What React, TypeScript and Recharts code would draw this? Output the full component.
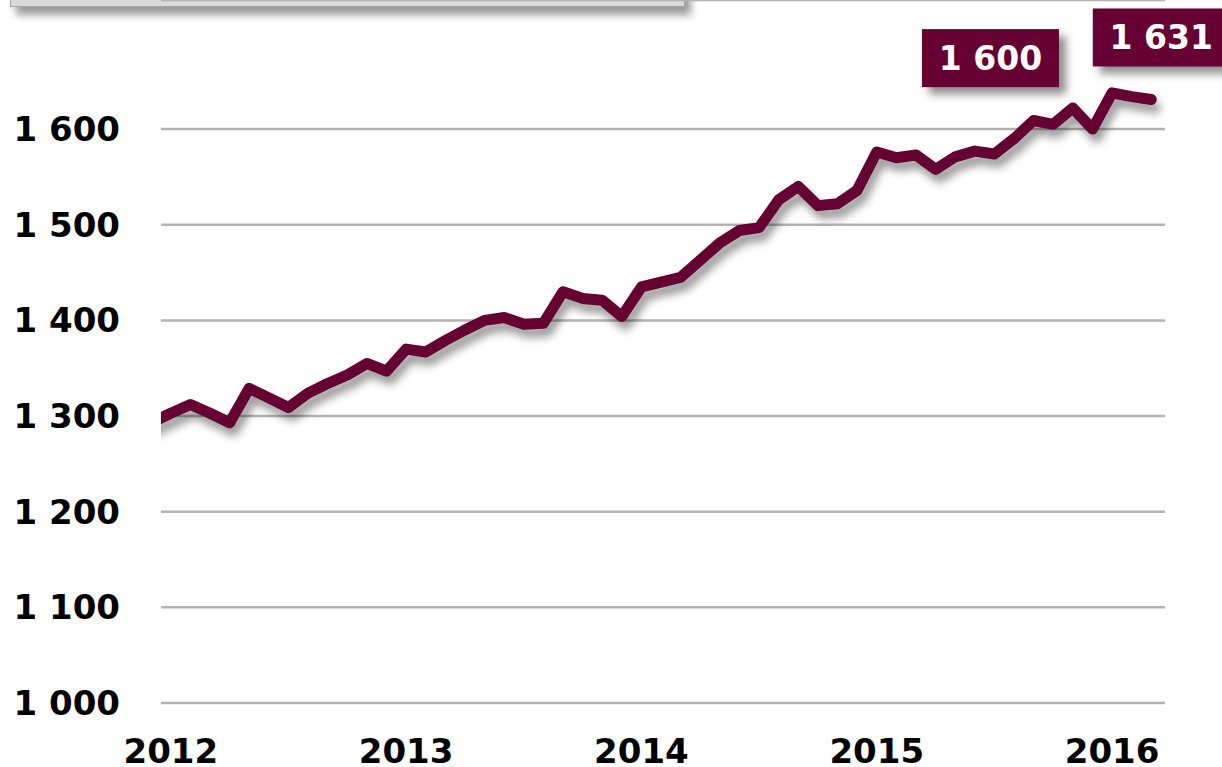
import React from 'react';
import { LineChart, Line, XAxis, YAxis, CartesianGrid, LabelList } from 'recharts';

// monthly values, Dec 2011 .. Mar 2016 (index -1 .. 50)
const months: number[] = [
  -1, 0, 1, 2, 3, 4, 5, 6, 7, 8, 9, 10, 11,
  12, 13, 14, 15, 16, 17, 18, 19, 20, 21, 22, 23,
  24, 25, 26, 27, 28, 29, 30, 31, 32, 33, 34, 35,
  36, 37, 38, 39, 40, 41, 42, 43, 44, 45, 46, 47,
  48, 49, 50,
];
const values: number[] = [
  1293, 1303, 1312, 1303, 1293, 1329, 1319, 1309, 1324, 1334, 1343, 1355, 1347,
  1370, 1367, 1379, 1390, 1400, 1403, 1396, 1397, 1430, 1423, 1421, 1404,
  1435, 1440, 1445, 1463, 1481, 1494, 1497, 1526, 1540, 1520, 1522, 1536,
  1576, 1570, 1573, 1558, 1571, 1577, 1574, 1590, 1609, 1605, 1622, 1600,
  1638, 1634, 1631,
];
const yearTicks: number[] = [0, 12, 24, 36, 48];
const yearLabels: string[] = ['2012', '2013', '2014', '2015', '2016'];
const valueTicks: number[] = [1000, 1100, 1200, 1300, 1400, 1500, 1600];

// which points carry a callout, and where the box sits relative to the point
const callouts: Record<number, { dx: number; dy: number }> = {
  47: { dx: -102, dy: -71 },
  50: { dx: 10, dy: -62 },
};

const data = months.map((m, i) => ({ m, v: values[i] }));

const MAROON = '#660033';
const FONT = '"DejaVu Sans", Verdana, sans-serif';

const fmt = (v: number) => {
  const s = String(v);
  return s.length > 3 ? s.slice(0, -3) + ' ' + s.slice(-3) : s;
};

const Callout = (props: any) => {
  const { x, y, value, index } = props;
  const c = callouts[data[index]?.m];
  if (!c) return null;
  const w = 137;
  const h = 58;
  const cx = x + c.dx;
  const cy = y + c.dy;
  return (
    <g>
      <rect
        x={cx - w / 2}
        y={cy - h / 2}
        width={w}
        height={h}
        fill={MAROON}
        style={{ filter: 'drop-shadow(7px 7px 4px rgba(0,0,0,0.45))' }}
      />
      <text
        x={cx}
        y={cy}
        dy="0.36em"
        textAnchor="middle"
        fill="#fff"
        fontFamily={FONT}
        fontWeight="bold"
        fontSize={33}
      >
        {fmt(value)}
      </text>
    </g>
  );
};

export default function App() {
  return (
    <div style={{ position: 'absolute', left: 0, top: 0, width: 1222, height: 767, background: '#fff', overflow: 'hidden' }}>
      <style>{`.recharts-line-curve { filter: drop-shadow(4px 8px 4px rgba(0,0,0,0.4)); }`}</style>
      <div
        style={{
          position: 'absolute',
          left: 10,
          top: -50,
          width: 673,
          height: 55,
          background: '#d9d9d9',
          border: '1px solid #a6a6a6',
          boxShadow: '6px 8px 8px rgba(0,0,0,0.4)',
        }}
      />
      <LineChart
        width={1222}
        height={767}
        data={data}
        margin={{ top: 0, right: 57, bottom: 0, left: 0 }}
        style={{ position: 'absolute', left: 0, top: 0 }}
      >
        <CartesianGrid horizontal vertical={false} stroke="#b3b3b3" strokeWidth={2.5} />
        <XAxis
          dataKey="m"
          type="number"
          domain={[-0.5, 50.7]}
          allowDataOverflow
          ticks={yearTicks}
          tickFormatter={(m: number) => yearLabels[yearTicks.indexOf(m)] ?? ''}
          axisLine={false}
          tickLine={false}
          tickSize={0}
          tickMargin={36}
          height={64}
          interval={0}
          tick={{ fontSize: 34, fontWeight: 'bold', fill: '#000', fontFamily: FONT }}
        />
        <YAxis
          type="number"
          domain={[1000, 1735]}
          ticks={valueTicks}
          tickFormatter={fmt}
          width={161}
          axisLine={false}
          tickLine={false}
          tickSize={0}
          tickMargin={41}
          interval={0}
          tick={{ fontSize: 34, fontWeight: 'bold', fill: '#000', fontFamily: FONT }}
        />
        <Line
          dataKey="v"
          type="linear"
          stroke={MAROON}
          strokeWidth={11}
          strokeLinejoin="round"
          strokeLinecap="round"
          dot={false}
          activeDot={false}
          isAnimationActive={false}
        >
          <LabelList dataKey="v" content={Callout} />
        </Line>
      </LineChart>
    </div>
  );
}
